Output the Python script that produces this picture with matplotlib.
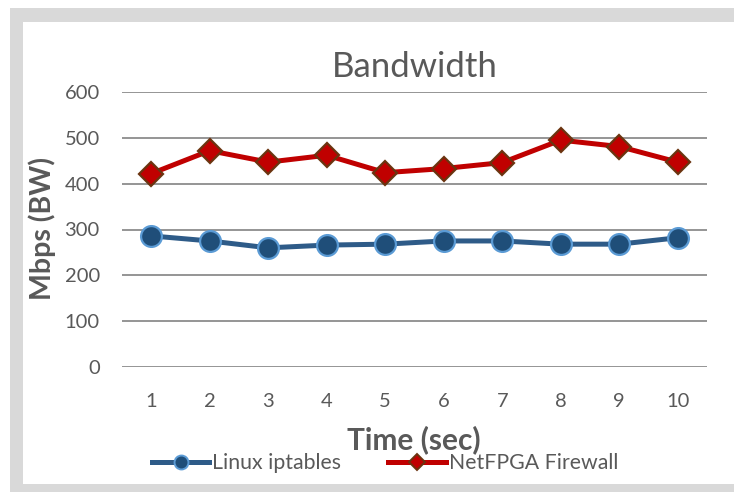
import matplotlib
matplotlib.use('Agg')
import matplotlib.pyplot as plt
from matplotlib.patches import Rectangle
from matplotlib.lines import Line2D

plt.rcParams['font.family'] = ['Lato', 'DejaVu Sans']

# Data
seconds = [1, 2, 3, 4, 5, 6, 7, 8, 9, 10]
linux_iptables = [286, 275, 260, 266, 268, 275, 275, 268, 268, 282]
netfpga_firewall = [422, 472, 447, 462, 424, 433, 446, 495, 481, 447]
y_ticks = [0, 100, 200, 300, 400, 500, 600]

W, H = 734, 492
fig = plt.figure(figsize=(W / 100, H / 100), dpi=100)
fig.patch.set_facecolor('white')

def fx(px):
    return px / W

def fy(py):
    return 1 - py / H

def box(x0, y0, x1, y1, color, z):
    # rectangle given in pixel coords (top-left origin)
    r = Rectangle((fx(x0), fy(y1)), fx(x1) - fx(x0), fy(y0) - fy(y1),
                  transform=fig.transFigure, facecolor=color,
                  edgecolor='none', zorder=z)
    fig.patches.append(r)

# Chart frame, cropped at the right and bottom
box(10, 8, 734, 22, '#d9d9d9', -1)
box(10, 8, 23, 492, '#d9d9d9', -1)
box(10, 484, 734, 492, '#d9d9d9', -1)
box(712, 22, 740, 484, 'white', 10)

ax = fig.add_axes([fx(122), fy(367), fx(707) - fx(122), fy(92) - fy(367)])
ax.set_facecolor('none')
ax.set_zorder(2)

ax.set_xlim(0.5, 10.5)
ax.set_ylim(0, 600)
ax.set_yticks(y_ticks)
ax.set_xticks(seconds)
ax.grid(axis='y', color='#8c8c8c', linewidth=1.3)
ax.set_axisbelow(True)
for s in ax.spines.values():
    s.set_visible(False)
ax.tick_params(axis='both', length=0, labelsize=14.5, labelcolor='#595959')
ax.tick_params(axis='x', pad=19)
ax.tick_params(axis='y', pad=16)

ax.plot(seconds, linux_iptables, color='#2e5b88', linewidth=3.6,
        marker='o', markersize=15, markerfacecolor='#1f4e79',
        markeredgecolor='#5b9bd5', markeredgewidth=1.6,
        clip_on=False, zorder=3, label='Linux iptables')
ax.plot(seconds, netfpga_firewall, color='#c00000', linewidth=3.6,
        marker='D', markersize=12.5, markerfacecolor='#c00000',
        markeredgecolor='#6b3410', markeredgewidth=1.6,
        clip_on=False, zorder=3, label='NetFPGA Firewall')

fig.text(fx(415), fy(67), 'Bandwidth', ha='center', va='center',
         fontsize=25, color='#595959')
fig.text(fx(414), fy(440), 'Time (sec)', ha='center', va='center',
         fontsize=21.5, fontweight='bold', color='#595959')
fig.text(fx(42), fy(228), 'Mbps (BW)', ha='center', va='center',
         rotation=90, fontsize=20.5, fontweight='bold', color='#595959')

h1 = Line2D([], [], color='#2e5b88', linewidth=3.6, marker='o', markersize=10,
            markerfacecolor='#1f4e79', markeredgecolor='#5b9bd5', markeredgewidth=1.4)
h2 = Line2D([], [], color='#c00000', linewidth=3.6, marker='D', markersize=8,
            markerfacecolor='#c00000', markeredgecolor='#6b3410', markeredgewidth=1.4)
fig.legend([h1, h2], ['Linux iptables', 'NetFPGA Firewall'],
           loc='center', bbox_to_anchor=(fx(385), fy(463)), ncol=2,
           frameon=False, fontsize=15.3, handlelength=2.7, handletextpad=0.15,
           columnspacing=2.2, labelcolor='#595959', borderpad=0)

fig.savefig('out.png', dpi=100, facecolor='white')
